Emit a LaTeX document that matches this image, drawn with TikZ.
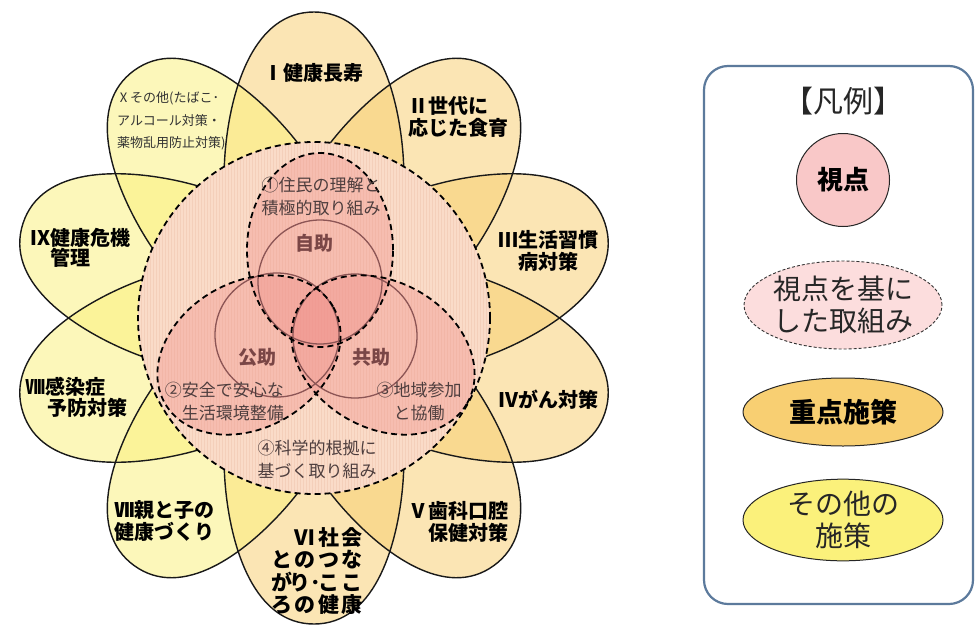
\documentclass[tikz,border=0pt]{standalone}
\usepackage{fontspec}
\setmainfont{Noto Sans CJK JP}
\usetikzlibrary{shapes.geometric}
\definecolor{keyc}{HTML}{F8CF70}
\definecolor{othc}{HTML}{FBF17B}
\definecolor{cbg}{HTML}{FADBC8}
\definecolor{cstripe}{HTML}{F4CFBA}
\definecolor{vpink}{HTML}{F08A86}
\definecolor{vline}{HTML}{8C5555}
\definecolor{vtext}{HTML}{7A4646}
\definecolor{ctext}{HTML}{4E3E3E}
\definecolor{lgframe}{HTML}{5C7A9C}
\definecolor{lgpink}{HTML}{F9C8C8}
\definecolor{lgpinkb}{HTML}{FCDDDD}
\definecolor{lgkey}{HTML}{F8CF72}
\definecolor{lgoth}{HTML}{FBF17B}
\newcommand\petalpath{(0,0) .. controls (40,-85) and (110,-95) .. (175,-88) .. controls (230,-82) and (306,-60) .. (306,0) .. controls (306,60) and (230,82) .. (175,88) .. controls (110,95) and (40,85) .. (0,0) -- cycle}
\newcommand\cellbox[1]{\makebox[23.5pt]{#1}}
\begin{document}
\begin{tikzpicture}[x=1pt,y=-1pt,
  petaltext/.style={font=\fontsize{20}{22}\selectfont\bfseries, inner sep=0pt, text=black},
  smalltext/.style={font=\fontsize{13}{22}\selectfont, inner sep=0pt, text=black!80},
  ctxt/.style={font=\fontsize{17}{23}\selectfont, inner sep=0pt, text=ctext},
  vtxt/.style={font=\fontsize{19}{22}\selectfont\bfseries, inner sep=0pt, text=vtext},
  dashline/.style={draw=black, line width=1.8pt, dash pattern=on 6pt off 4pt},
  vcircle/.style={draw=vline, line width=1.3pt},
  petalline/.style={draw=black!90, line width=1.4pt},
  lgtext/.style={font=\fontsize{28}{32}\selectfont, inner sep=0pt, text=black!85}]
\useasboundingbox[fill=white] (0,0) rectangle (976,637);

% petals: fills
\foreach \ang/\col in {90/keyc,54/keyc,18/keyc,-18/keyc,-54/keyc,-90/keyc,-126/othc,-162/othc,162/othc,126/othc}{
  \fill[\col, fill opacity=0.52, shift={(314,318)}, rotate=\ang] \petalpath;
}
% petals: outlines
\foreach \ang in {90,54,18,-18,-54,-90,-126,-162,162,126}{
  \draw[petalline, shift={(314,318)}, rotate=\ang] \petalpath;
}

% central disk
\fill[cbg] (314,318) circle[radius=176pt];
\begin{scope}
  \clip (314,318) circle[radius=176pt];
  \foreach \i in {0,...,118}{
    \draw[cstripe, line width=0.6pt] ({138+3*\i},140) -- ({138+3*\i},496);
  }
\end{scope}

% viewpoint ellipses (fills)
\fill[vpink, fill opacity=0.36] (320,250) ellipse [x radius=73pt, y radius=97pt];
\fill[vpink, fill opacity=0.36, rotate around={30:(249,355)}] (249,355) ellipse [x radius=97pt, y radius=73pt];
\fill[vpink, fill opacity=0.36, rotate around={-30:(383,355)}] (383,355) ellipse [x radius=97pt, y radius=73pt];

% solid circles
\draw[vcircle] (320,282) circle[radius=62pt];
\draw[vcircle] (277,335) circle[radius=62pt];
\draw[vcircle] (355,336) circle[radius=62pt];

% dashed outlines
\draw[dashline] (320,250) ellipse [x radius=73pt, y radius=97pt];
\draw[dashline, rotate around={30:(249,355)}] (249,355) ellipse [x radius=97pt, y radius=73pt];
\draw[dashline, rotate around={-30:(383,355)}] (383,355) ellipse [x radius=97pt, y radius=73pt];
\draw[dashline] (314,318) circle[radius=176pt];

% central texts
\node[ctxt, align=center] (t1) at (321,197) {①住民の理解と\\積極的取り組み};
\node[vtxt] (jijo) at (314,243) {自助};
\node[vtxt] (kojo) at (257,357) {公助};
\node[vtxt] (kyojo) at (371,357) {共助};
\node[ctxt, align=right, anchor=east] (t2) at (284,401) {②安全で安心な\\生活環境整備};
\node[ctxt, align=center] (t3) at (419,402) {③地域参加\\と協働};
\node[ctxt, align=center] (t4) at (317,459) {④科学的根拠に\\基づく取り組み};

% petal texts
\node[petaltext] (p1) at (313,73) {Ⅰ健康長寿};
\node[petaltext, align=left, anchor=west] (p2) at (408,117) {Ⅱ世代に\\応じた食育};
\node[petaltext, align=center] (p3) at (548,251) {Ⅲ生活習慣\\病対策};
\node[petaltext] (p4) at (548,400) {Ⅳがん対策};
\node[petaltext, align=right, anchor=east] (p5) at (509,522) {Ⅴ歯科口腔\\保健対策};
\node[petaltext, align=left, font=\fontsize{21}{22.4}\selectfont\bfseries] (p6) at (317,571)
  {\cellbox{}\cellbox{Ⅵ}\cellbox{社}\cellbox{会}\\
   \cellbox{と}\cellbox{の}\cellbox{つ}\cellbox{な}\\
   \cellbox{が}\cellbox{り･}\cellbox{こ}\cellbox{こ}\\
   \cellbox{ろ}\cellbox{の}\cellbox{健}\cellbox{康}};
\node[petaltext, align=left, anchor=west] (p7) at (114,521) {Ⅶ親と子の\\健康づくり};
\node[petaltext, anchor=west] (p8a) at (25,387) {Ⅷ感染症};
\node[petaltext, anchor=west] (p8b) at (47,408) {予防対策};
\node[petaltext, anchor=west] (p9a) at (30,238) {Ⅸ健康危機};
\node[petaltext, anchor=west] (p9b) at (50,258) {管理};
\node[smalltext, anchor=west] (p10a) at (117,98) {Ⅹその他(たばこ･};
\node[smalltext, anchor=west] (p10b) at (117,121) {アルコール対策・};
\node[smalltext, anchor=west] (p10c) at (117,143) {薬物乱用防止対策)};

% legend
\draw[lgframe, line width=2.2pt, rounded corners=24pt] (704,66) rectangle (973,604);
\node[lgtext, font=\fontsize{30}{32}\selectfont] (lgt) at (843,101) {【凡例】};
\node[circle, draw=black!85, line width=1pt, fill=lgpink, minimum size=93pt, inner sep=0pt,
      font=\fontsize{26}{28}\selectfont\bfseries] (lg1) at (843,180) {視点};
\node[ellipse, draw=black!80, line width=0.9pt, dash pattern=on 3pt off 2pt, fill=lgpinkb,
      minimum width=184pt, minimum height=88pt, inner sep=0pt, align=center, lgtext] (lg2) at (843,305) {視点を基に\\した取組み};
\node[ellipse, draw=black!85, line width=1pt, fill=lgkey, minimum width=200pt, minimum height=68pt,
      inner sep=0pt, font=\fontsize{27}{30}\selectfont\bfseries] (lg3) at (843,412) {重点施策};
\node[ellipse, draw=black!85, line width=1pt, fill=lgoth, minimum width=200pt, minimum height=76pt,
      inner sep=0pt, align=center, lgtext] (lg4) at (843,520) {その他の\\施策};
\end{tikzpicture}
\end{document}
